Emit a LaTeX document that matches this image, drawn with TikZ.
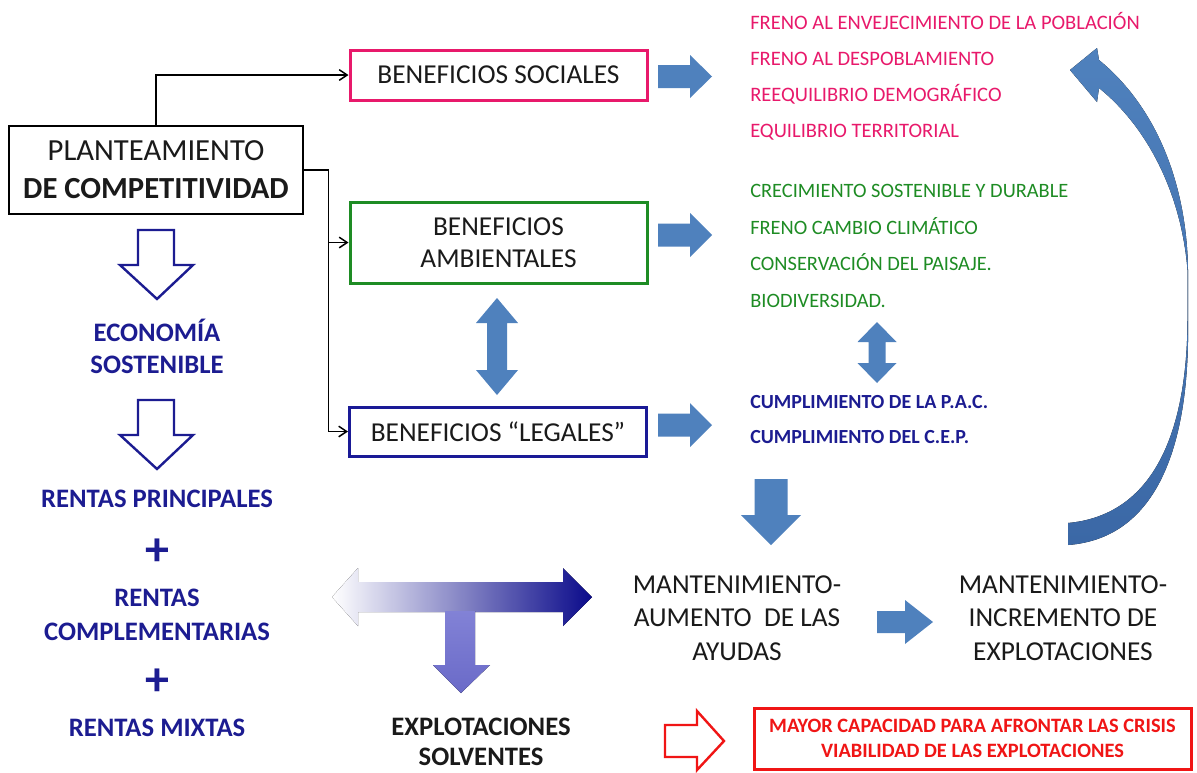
\documentclass[tikz,border=0pt]{standalone}
\usepackage{fontspec}
\setmainfont{Carlito}
\usetikzlibrary{arrows.meta}
\definecolor{pinkc}{HTML}{E8196B}
\definecolor{greenc}{HTML}{1E8C24}
\definecolor{navy}{HTML}{1C1C91}
\definecolor{navybox}{HTML}{1A1A96}
\definecolor{arrowblue}{HTML}{4F81BD}
\definecolor{arrowdark}{HTML}{3B68A6}
\definecolor{redc}{HTML}{F01515}
\definecolor{darkarrow}{HTML}{0A0A8A}
\definecolor{stemtop}{HTML}{8282D6}
\definecolor{stembot}{HTML}{6A6AC8}
\definecolor{txt}{HTML}{1A1A1A}
\newcommand\hblockarrow[6]{\fill[arrowblue] (#1,#4-#5) -- (#2,#4-#5) -- (#2,#4-#6) -- (#3,#4) -- (#2,#4+#6) -- (#2,#4+#5) -- (#1,#4+#5) -- cycle;}
\newcommand\vblockarrow[6]{\fill[arrowblue] (#1-#5,#2) -- (#1+#5,#2) -- (#1+#5,#3) -- (#1+#6,#3) -- (#1,#4) -- (#1-#6,#3) -- (#1-#5,#3) -- cycle;}
\newcommand\vdoublearrow[7]{\fill[arrowblue] (#1,#2) -- (#1+#7,#3) -- (#1+#6,#3) -- (#1+#6,#4) -- (#1+#7,#4) -- (#1,#5) -- (#1-#7,#4) -- (#1-#6,#4) -- (#1-#6,#3) -- (#1-#7,#3) -- cycle;}
\tikzset{
  benefbox/.style={draw, line width=2.25pt, minimum width=222.75pt, inner sep=0pt, align=center, text=txt, font=\fontsize{20.5}{24}\selectfont},
  conn/.style={draw=black, line width=1.1pt, -{Straight Barb[length=6pt,width=8pt,line width=1.1pt]}},
  listtext/.style={anchor=west, align=left, inner sep=0pt},
  lefttext/.style={align=center, inner sep=0pt, text=navy, font=\fontsize{20}{24}\selectfont\bfseries},
  midtext/.style={align=center, inner sep=0pt, text=txt, font=\fontsize{20.5}{25}\selectfont},
  hollow/.style={line width=1.8pt, line join=miter}
}
\begin{document}
\begin{tikzpicture}[x=0.75pt, y=-0.75pt]
\useasboundingbox (0,0) rectangle (1197,772);
\fill[white] (0,0) rectangle (1197,772);

% main box
\node[draw=black, line width=1.1pt, minimum width=220.5pt, minimum height=66pt, inner sep=0pt, align=center, text=txt, font=\fontsize{23}{28.5}\selectfont] (plan) at (156,170) {PLANTEAMIENTO\\\textbf{DE COMPETITIVIDAD}};

% benefit boxes
\node[benefbox, draw=pinkc, minimum height=37.5pt] (soc) at (498.5,75) {BENEFICIOS SOCIALES};
\node[benefbox, draw=greenc, minimum height=60.75pt] (amb) at (498.5,242.5) {BENEFICIOS\\AMBIENTALES};
\node[benefbox, draw=navybox, minimum height=36.75pt] (leg) at (498,431.5) {BENEFICIOS “LEGALES”};

% connectors
\draw[conn] (plan.north) |- (soc.west);
\draw[conn] (plan.east) -- ++(25,0) coordinate (bend) |- (leg.west);
\draw[conn] (bend) |- (amb.west);

% right block arrows
\hblockarrow{658}{690}{712}{76.5}{11.5}{21.5}
\hblockarrow{658}{690}{712}{235}{11.5}{22}
\hblockarrow{658}{690}{712}{425}{11.5}{22}
\hblockarrow{877}{905}{933}{622}{11}{22}

% double arrows and down arrow
\vdoublearrow{497}{298}{323}{370}{395}{10}{21}
\vdoublearrow{877}{322}{342}{363}{383}{8.5}{19.5}
\vblockarrow{771}{479}{515}{545}{16.5}{30}

% lists
\node[listtext, text=pinkc, font=\fontsize{15.4}{27}\selectfont] (pinklist) at (750,76) {FRENO AL ENVEJECIMIENTO\ DE LA POBLACIÓN\\FRENO AL DESPOBLAMIENTO\\REEQUILIBRIO DEMOGRÁFICO\\EQUILIBRIO TERRITORIAL};
\node[listtext, text=greenc, font=\fontsize{15.3}{27.4}\selectfont] (greenlist) at (750,246) {CRECIMIENTO SOSTENIBLE Y DURABLE\\FRENO CAMBIO CLIMÁTICO\\CONSERVACIÓN DEL PAISAJE.\\BIODIVERSIDAD.};
\node[listtext, text=navy, font=\fontsize{15}{26.25}\selectfont\bfseries] (bluelist) at (750,420) {CUMPLIMIENTO DE LA P.A.C.\\CUMPLIMIENTO DEL C.E.P.};

% left column
\draw[navy, hollow] (138,230) -- (174,230) -- (174,265) -- (193,265) -- (157,299) -- (120,265) -- (138,265) -- cycle;
\draw[navy, hollow] (138,400) -- (174,400) -- (174,435) -- (193,435) -- (157,469) -- (120,435) -- (138,435) -- cycle;
\node[lefttext] (eco) at (157,346) {ECONOMÍA\\SOSTENIBLE};
\node[lefttext] (rp) at (157,499) {RENTAS PRINCIPALES};
\node[lefttext, font=\fontsize{36}{40}\selectfont\bfseries] (plus1) at (157,552) {+};
\node[lefttext, font=\fontsize{20}{25.5}\selectfont\bfseries] (rc) at (157,615) {RENTAS\\COMPLEMENTARIAS};
\node[lefttext, font=\fontsize{36}{40}\selectfont\bfseries] (plus2) at (157,682) {+};
\node[lefttext] (rm) at (157,728) {RENTAS MIXTAS};

% T arrow
\fill[left color=white, right color=darkarrow] (332,597) -- (358,568) -- (358,582) -- (563,582) -- (563,568) -- (592,597) -- (563,626) -- (563,612) -- (358,612) -- (358,626) -- cycle;
\fill[top color=stemtop, bottom color=stembot] (445,611) -- (475,611) -- (475,665) -- (490,665) -- (461,693) -- (433,665) -- (445,665) -- cycle;
\node[align=center, inner sep=0pt, text=txt, font=\fontsize{20}{22.5}\selectfont\bfseries] (expl) at (481,742) {EXPLOTACIONES\\SOLVENTES};

% middle texts
\node[midtext] (mant1) at (737,618) {MANTENIMIENTO-\\AUMENTO~ DE LAS\\AYUDAS};
\node[midtext] (mant2) at (1063,618) {MANTENIMIENTO-\\INCREMENTO DE\\EXPLOTACIONES};

% curved arrow
\fill[top color=arrowblue, bottom color=arrowdark] (1068,545) .. controls (1160,538) and (1190,440) .. (1188,320)
  -- (1188,270)
  .. controls (1187,190) and (1160,110) .. (1099,60) -- (1097,48) -- (1070,70) -- (1097,102) -- (1099,88)
  .. controls (1145,125) and (1181,190) .. (1187.5,270)
  -- (1187.5,320)
  .. controls (1187,430) and (1155,515) .. (1068,523) -- cycle;

% red part
\draw[redc, hollow] (665,725) -- (697,725) -- (697,711) -- (724,741) -- (697,770) -- (697,757) -- (665,757) -- cycle;
\node[draw=redc, line width=2.25pt, minimum width=327.75pt, minimum height=45.75pt, inner sep=0pt, align=center, text=redc, font=\fontsize{15.3}{18.75}\selectfont\bfseries] (crisis) at (972.5,738.5) {MAYOR CAPACIDAD PARA AFRONTAR LAS CRISIS\\VIABILIDAD DE LAS EXPLOTACIONES};
\end{tikzpicture}
\end{document}
